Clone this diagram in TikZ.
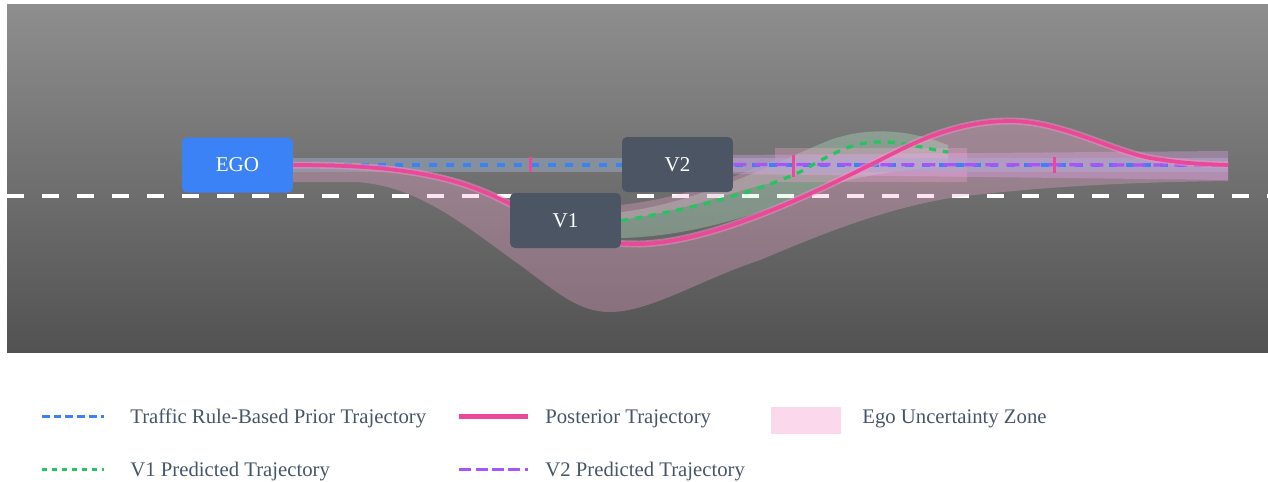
\documentclass[tikz,border=0pt]{standalone}
\usepackage{fontspec}
\setmainfont{Liberation Serif}
\usepackage{xcolor}
\usetikzlibrary{positioning}

\definecolor{egoblue}{HTML}{3B82F6}
\definecolor{cargray}{HTML}{4B5563}
\definecolor{postpink}{HTML}{EC4899}
\definecolor{v1green}{HTML}{22C55E}
\definecolor{v1zone}{HTML}{BBF7D0}
\definecolor{v2purple}{HTML}{A855F7}
\definecolor{zonepink}{HTML}{F9A8D4}
\definecolor{priorband}{HTML}{94A3B8}
\definecolor{v2lilac}{HTML}{F0ABFC}
\definecolor{roadtop}{HTML}{8E8E8E}
\definecolor{roadbot}{HTML}{525252}
\definecolor{legendgray}{HTML}{475569}

\pgfdeclarelayer{road}
\pgfdeclarelayer{zones}
\pgfdeclarelayer{paths}
\pgfsetlayers{road,zones,paths,main}

\begin{document}
\begin{tikzpicture}[
  x=0.02cm, y=-0.02cm,
  car/.style={rounded corners=0.1cm, minimum width=2.22cm, minimum height=1.1cm, inner sep=0pt, text=white, font=\fontsize{12}{14}\selectfont},
  lane/.style={draw=white, line width=0.065cm, dash pattern=on 0.34cm off 0.36cm},
  prior/.style={draw=egoblue, line width=0.065cm, dash pattern=on 0.16cm off 0.18cm},
  post/.style={draw=postpink, line width=0.075cm, preaction={draw=postpink!60!white, line width=0.14cm, opacity=0.5}},
  v1pred/.style={draw=v1green, line width=0.065cm, dash pattern=on 0.14cm off 0.14cm},
  v2pred/.style={draw=v2purple, line width=0.065cm, dash pattern=on 0.26cm off 0.16cm},
  tick/.style={draw=postpink, line width=0.06cm},
  zone/.style={fill=zonepink, fill opacity=0.3},
  legtext/.style={text=legendgray, font=\fontsize{11.8}{14}\selectfont, inner sep=0pt, yshift=-0.05cm}
]
\useasboundingbox (0,0) rectangle (1268,481);

% Vehicles
\node[car, fill=egoblue] (ego) at (237.5,165) {EGO};
\node[car, fill=cargray] (v2) at (677.5,164.5) {V2};
\node[car, fill=cargray] (v1) at (565.5,220.5) {V1};
\coordinate (goal) at (1228,165);

% Road
\begin{pgfonlayer}{road}
\shade[top color=roadtop, bottom color=roadbot] (7,4) rectangle (1268,352);
\draw[lane] (7,196) -- (1268,196);
\end{pgfonlayer}

% Uncertainty zones
\begin{pgfonlayer}{zones}
\fill[zone] (293,162) .. controls (420,162) and (470,178) .. (530,213)
  .. controls (570,238) and (600,242) .. (640,242)
  .. controls (720,240) and (830,183) .. (900,148)
  .. controls (940,128) and (975,119) .. (1010,119)
  .. controls (1060,119) and (1110,148) .. (1150,156)
  .. controls (1180,161) and (1200,162) .. (1228,162)
  -- (1228,181) .. controls (1150,182) and (1050,185) .. (950,198)
  .. controls (880,210) and (820,235) .. (760,260)
  .. controls (700,280) and (650,312) .. (610,312)
  .. controls (580,312) and (560,295) .. (520,265)
  .. controls (470,230) and (420,185) .. (355,182) -- (293,182) -- cycle;
\fill[v1zone, fill opacity=0.3] (621,212) .. controls (700,203) and (780,160) .. (830,140)
  .. controls (870,126) and (910,130) .. (948,145) -- (948,166)
  .. controls (900,170) and (860,176) .. (830,185)
  .. controls (770,210) and (700,236) .. (621,238) -- cycle;
\fill[zone] (621,205) .. controls (690,197) and (740,174) .. (775,160) -- (775,148)
  -- (967,148) -- (967,182) -- (775,182)
  .. controls (735,190) and (690,210) .. (621,220) -- cycle;
\fill[priorband, fill opacity=0.6] (293,158) rectangle (1228,172);
\fill[v2lilac, fill opacity=0.3] (733,155) -- (1228,151) -- (1228,180) -- (733,174) -- cycle;
\end{pgfonlayer}

% Trajectories
\begin{pgfonlayer}{paths}
\draw[prior] (ego.east) -- (goal);
\draw[v2pred] (v2.east) -- (goal);
\draw[v1pred] (v1.east) .. controls (700,208) and (760,190) .. (800,172)
  .. controls (830,155) and (850,143) .. (875,142)
  .. controls (905,141) and (930,150) .. (948,152);
\draw[post] (ego.east) .. controls (420,165) and (470,180) .. (530,215)
  .. controls (570,240) and (600,244) .. (640,244)
  .. controls (720,242) and (830,185) .. (900,150)
  .. controls (940,130) and (975,121) .. (1010,121)
  .. controls (1060,121) and (1110,150) .. (1150,158)
  .. controls (1180,163) and (1200,164) .. (goal);
\draw[tick] (530,157) -- (530,172);
\draw[tick] (793,155) -- (793,177);
\draw[tick] (1054,157) -- (1054,173);
\end{pgfonlayer}

% Legend
\coordinate (k1) at (104,416);
\coordinate (k2) at (528,416);
\coordinate (k3) at (841,416);
\coordinate (k4) at (104,469);
\coordinate (k5) at (528,469);
\draw[draw=egoblue, line width=0.06cm, dash pattern=on 0.155cm off 0.08cm] (42,416) -- (k1);
\draw[draw=postpink, line width=0.1cm] (459,416) -- (k2);
\fill[zonepink!45!white] (771,407) rectangle (841,434);
\draw[draw=v1green, line width=0.06cm, dash pattern=on 0.1cm off 0.1cm] (42,469) -- (k4);
\draw[draw=v2purple, line width=0.06cm, dash pattern=on 0.24cm off 0.09cm] (459,469) -- (k5);
\node[legtext, right=0.52cm of k1] (l1) {Traffic Rule-Based Prior Trajectory};
\node[legtext, right=0.34cm of k2] (l2) {Posterior Trajectory};
\node[legtext, right=0.42cm of k3] (l3) {Ego Uncertainty Zone};
\node[legtext, right=0.52cm of k4] (l4) {V1 Predicted Trajectory};
\node[legtext, right=0.34cm of k5] (l5) {V2 Predicted Trajectory};
\end{tikzpicture}
\end{document}
